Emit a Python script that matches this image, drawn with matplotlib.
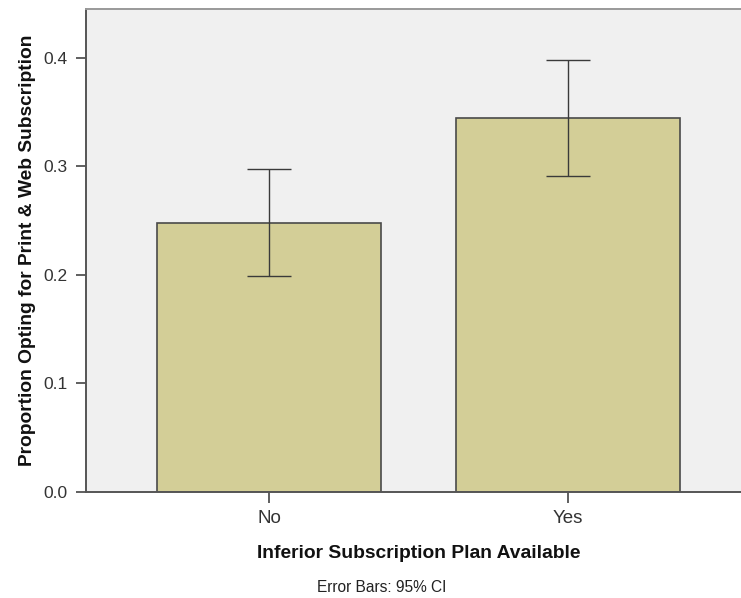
import matplotlib
matplotlib.use("Agg")
import matplotlib.pyplot as plt
import numpy as np

# Proportion choosing the print & web plan, with 95% CI bounds
groups = ["No", "Yes"]
proportions = [0.248, 0.345]
ci_low = [0.199, 0.291]
ci_high = [0.298, 0.398]

plt.rcParams['font.family'] = ['Liberation Sans', 'DejaVu Sans']

fig = plt.figure(figsize=(7.41, 5.98), dpi=100, facecolor='white')
ax = fig.add_axes([86 / 741, 106 / 598, 1 - 86 / 741, (492 - 9) / 598])
ax.set_facecolor('#f0f0f0')

x = np.arange(len(groups))
props = np.array(proportions)
yerr = [props - np.array(ci_low), np.array(ci_high) - props]

ax.bar(x, props, width=0.75, color='#d3ce97', edgecolor='#4a4a4a', linewidth=1.2, zorder=2)
ax.errorbar(x, props, yerr=yerr, fmt='none', ecolor='#3a3a3a', elinewidth=1.0,
            capsize=16, capthick=1.0, zorder=3)

ax.set_xlim(-0.612, 1.579)
ax.set_ylim(0, 0.445)
ax.set_xticks(x)
ax.set_xticklabels(groups)
ax.set_yticks([0.0, 0.1, 0.2, 0.3, 0.4])
ax.set_yticklabels(["0.0", "0.1", "0.2", "0.3", "0.4"])
ax.tick_params(axis='y', direction='out', length=7, width=1.2, color='#444444',
               labelsize=12.5, labelcolor='#333333', pad=6)
ax.tick_params(axis='x', direction='out', length=8, width=1.2, color='#444444',
               labelsize=13.5, labelcolor='#333333', pad=5)

for side in ['left', 'bottom']:
    ax.spines[side].set_color('#555555')
    ax.spines[side].set_linewidth(1.4)
ax.spines['top'].set_color('#999999')
ax.spines['top'].set_linewidth(1.4)
ax.spines['right'].set_visible(False)

ax.set_ylabel("Proportion Opting for Print & Web Subscription", fontsize=13.8,
              fontweight='bold', color='#111111')
ax.yaxis.set_label_coords(-0.077, 0.5)

fig.text(419 / 741, 1 - 553 / 598, "Inferior Subscription Plan Available", fontsize=13.9,
         fontweight='bold', color='#111111', ha='center', va='center')
fig.text(382 / 741, 1 - 588 / 598, "Error Bars: 95% CI", fontsize=11.2,
         color='#222222', ha='center', va='center')

fig.savefig("out.png", dpi=100)
